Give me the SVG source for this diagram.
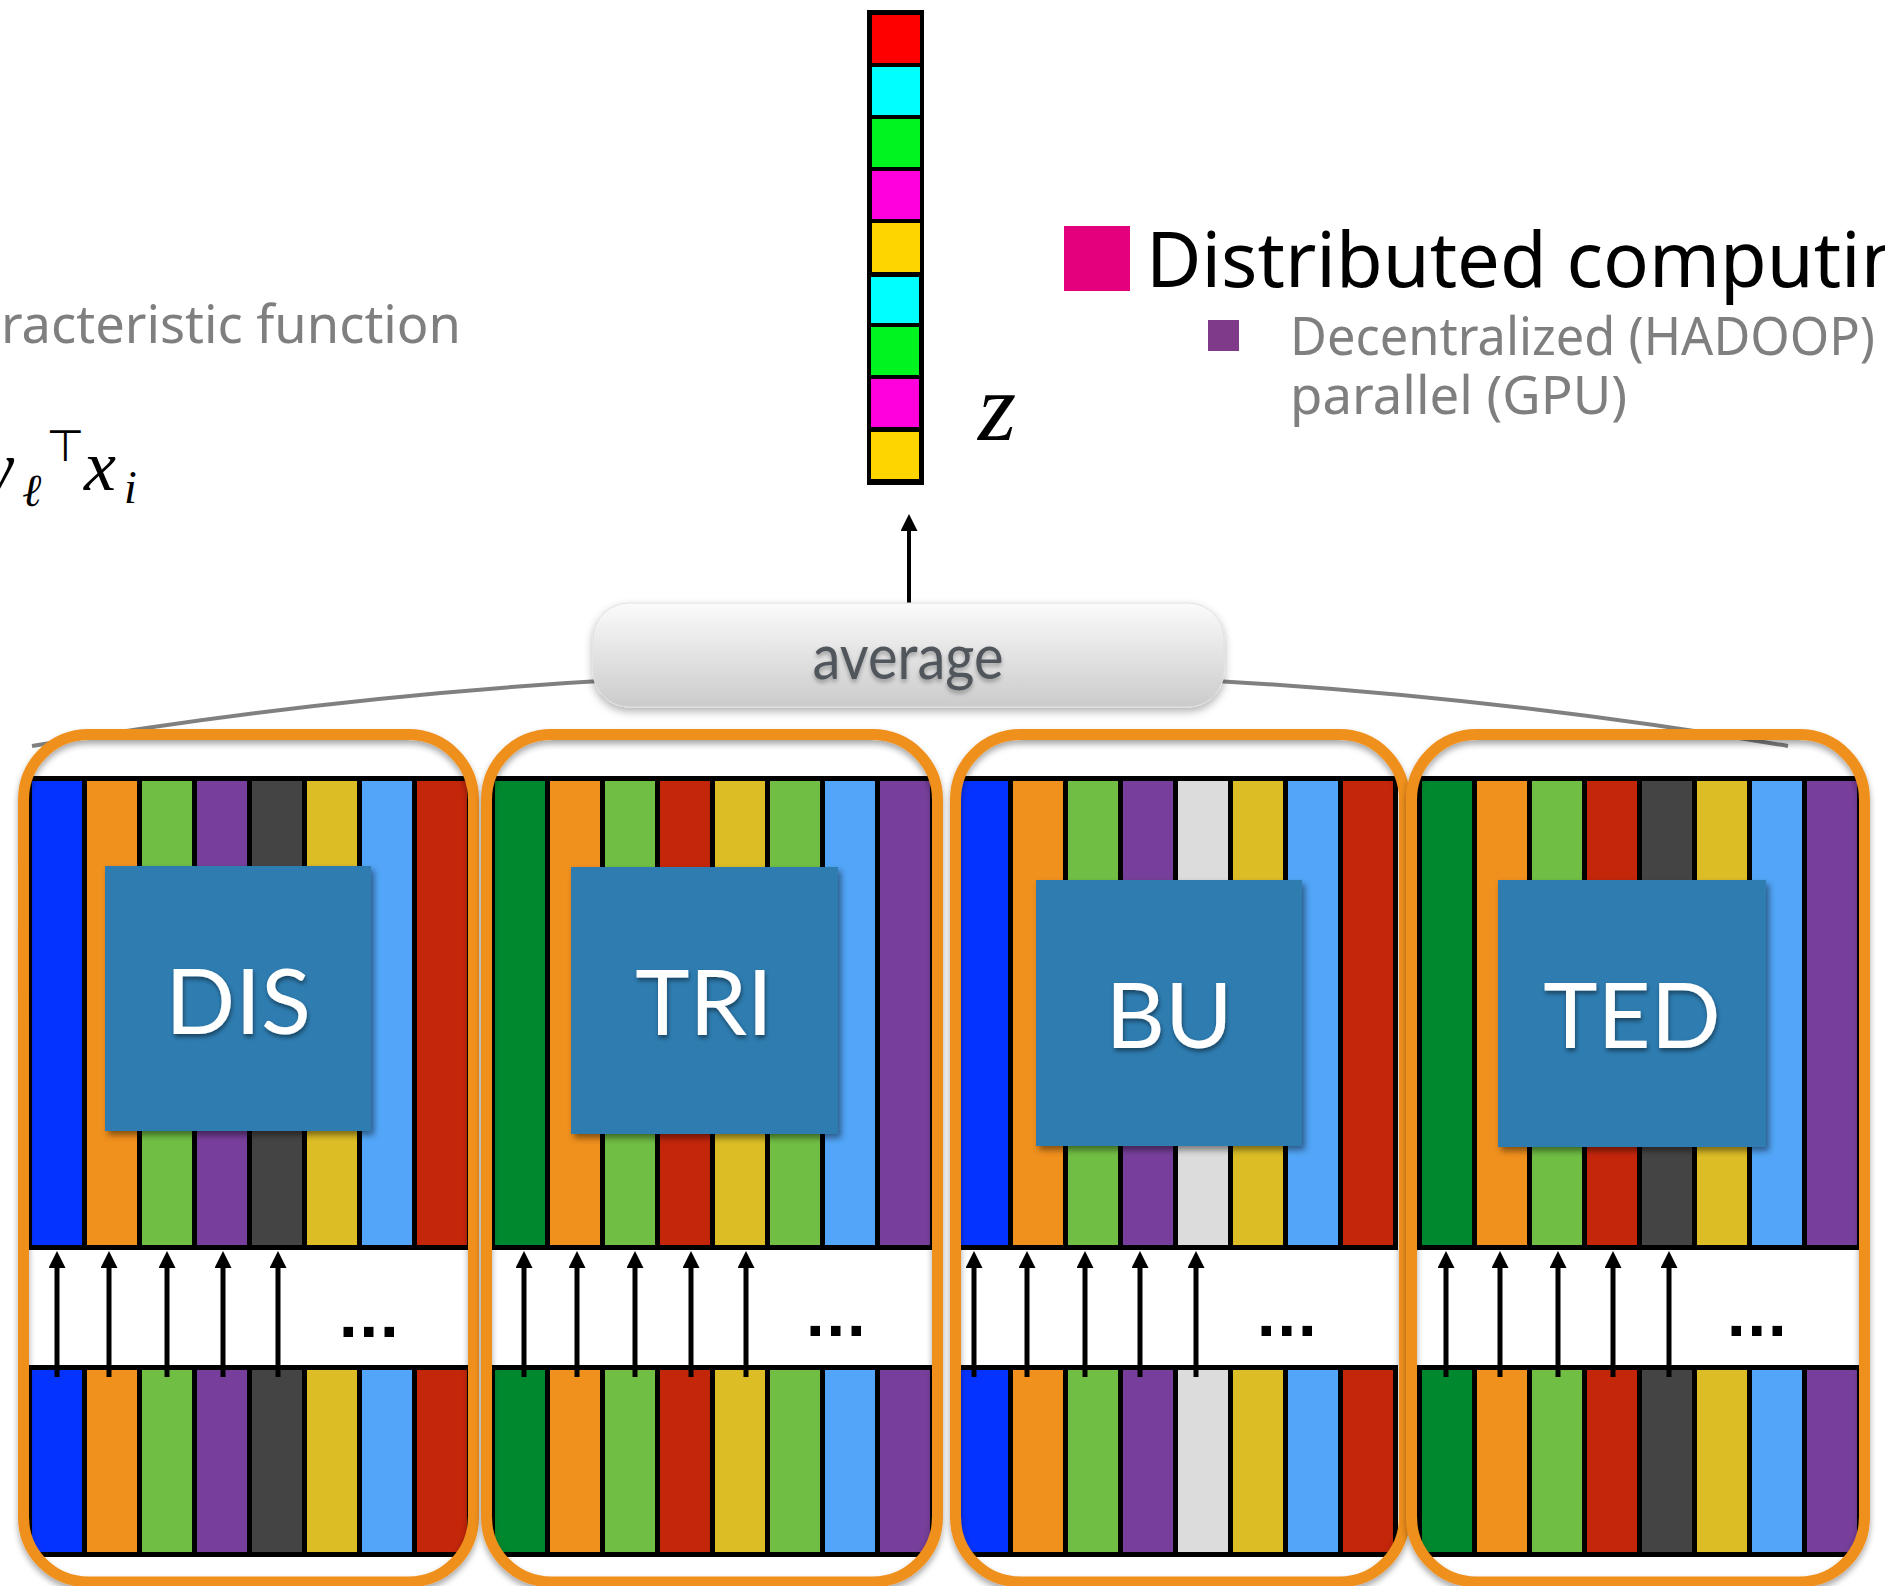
<svg xmlns="http://www.w3.org/2000/svg" xmlns:xlink="http://www.w3.org/1999/xlink" width="1885" height="1586" viewBox="0 0 1885 1586">
<style>
.bk{fill:#000}
.b{fill:#0433ff}.o{fill:#f0901d}.g{fill:#70bf44}.p{fill:#773f9b}.d{fill:#444444}.y{fill:#dcbd26}.l{fill:#52a5f8}.r{fill:#c4260a}.dg{fill:#00882e}.lg{fill:#dcdcdc}
.frame{fill:none;stroke:#f0901d;stroke-width:11}
.box{fill:#2f7cb0}
.boxtxt{font-family:Lato,"Open Sans",sans-serif;font-size:92px;fill:#fff;text-anchor:middle}
.dots{font-family:"DejaVu Sans",sans-serif;font-weight:bold;font-size:54px;fill:#000}
.arr{stroke:#000;stroke-width:5;fill:none}
.gray{font-family:"Noto Sans","Open Sans",sans-serif;fill:#7f7f7f}
.math{font-family:"Liberation Serif","DejaVu Serif",serif;font-style:italic;fill:#000}
</style>
<defs>
<marker id="ah" viewBox="0 0 17 17" refX="0" refY="8.5" markerWidth="17" markerHeight="17" markerUnits="userSpaceOnUse" orient="auto">
<path d="M0,0 L17,8.5 L0,17 z" fill="#000"/>
</marker>
<filter id="fsh" x="-5%" y="-5%" width="110%" height="110%"><feDropShadow dx="0" dy="4" stdDeviation="3" flood-color="#000" flood-opacity="0.35"/></filter>
<filter id="bsh" x="-10%" y="-10%" width="125%" height="125%"><feDropShadow dx="3" dy="4" stdDeviation="3" flood-color="#000" flood-opacity="0.45"/></filter>
<filter id="tsh" x="-10%" y="-20%" width="120%" height="150%"><feDropShadow dx="1" dy="3" stdDeviation="2" flood-color="#000" flood-opacity="0.45"/></filter>
<filter id="ash" x="-5%" y="-20%" width="110%" height="150%"><feDropShadow dx="0" dy="4" stdDeviation="4" flood-color="#000" flood-opacity="0.3"/></filter>
<filter id="atsh" x="-10%" y="-20%" width="120%" height="150%"><feDropShadow dx="0" dy="3" stdDeviation="2" flood-color="#000" flood-opacity="0.3"/></filter>
<linearGradient id="avg" x1="0" y1="0" x2="0" y2="1"><stop offset="0" stop-color="#fbfbfb"/><stop offset="1" stop-color="#cbcbcb"/></linearGradient>
<clipPath id="c1"><rect x="23.5" y="734.5" width="450" height="847.5" rx="65"/></clipPath>
<clipPath id="c2"><rect x="486.5" y="734.5" width="451" height="847.5" rx="65"/></clipPath>
<clipPath id="c3"><rect x="955.5" y="734.5" width="449" height="847.5" rx="65"/></clipPath>
<clipPath id="c4"><rect x="1411.5" y="734.5" width="453" height="847.5" rx="65"/></clipPath>
</defs>
<rect width="1885" height="1586" fill="#fff"/>

<!-- left text -->
<g id="left-text">
<text class="gray" x="1" y="343" font-size="52" textLength="460" lengthAdjust="spacingAndGlyphs">racteristic function</text>
<text class="math" x="-32" y="490" font-size="70">w</text>
<text class="math" x="22" y="506" font-size="46">ℓ</text>
<text x="46" y="461" font-family="'DejaVu Sans',sans-serif" font-size="44" fill="#000">⊤</text>
<text class="math" x="84" y="490" font-size="72">x</text>
<text class="math" x="124" y="503" font-size="46">i</text>
</g>

<!-- bullets -->
<g id="bullets">
<rect x="1064" y="226" width="66" height="65" fill="#e4007c"/>
<text x="1146" y="287" font-family="'Noto Sans','Open Sans',sans-serif" font-size="76" fill="#000">Distributed computin</text>
<rect x="1208" y="320" width="31" height="31" fill="#7f3a8a"/>
<text class="gray" x="1290" y="355" font-size="52" textLength="585" lengthAdjust="spacingAndGlyphs">Decentralized (HADOOP)</text>
<text class="gray" x="1290" y="414" font-size="52" textLength="337" lengthAdjust="spacingAndGlyphs">parallel (GPU)</text>
</g>

<!-- connectors -->
<g id="connectors">
<path d="M32,746 Q910,597.6 1788,746" fill="none" stroke="#808080" stroke-width="4"/>
<line class="arr" x1="909" y1="603" x2="909" y2="531" marker-end="url(#ah)" style="stroke-width:4"/>
</g>

<!-- z vector -->
<g id="z-vector">
<rect x="867" y="10" width="57" height="475" fill="#000"/>
<rect x="872" y="15" width="48" height="48" fill="#ff0000"/>
<rect x="872" y="67" width="48" height="48" fill="#00ffff"/>
<rect x="872" y="119" width="48" height="48" fill="#00f520"/>
<rect x="872" y="171" width="48" height="48" fill="#ff00dd"/>
<rect x="872" y="223" width="48" height="49" fill="#ffd500"/>
<rect x="871" y="277" width="48" height="46" fill="#00ffff"/>
<rect x="871" y="327" width="48" height="48" fill="#00f520"/>
<rect x="871" y="379" width="48" height="48" fill="#ff00dd"/>
<rect x="871" y="432" width="48" height="47" fill="#ffd500"/>
<text class="math" x="978" y="440" font-size="98">z</text>
</g>

<!-- average -->
<g id="average">
<rect x="593" y="603" width="631" height="104" rx="36" fill="url(#avg)" stroke="#e0e0e0" stroke-width="1" filter="url(#ash)"/>
<text x="908" y="679" font-family="Lato,'Open Sans',sans-serif" font-size="62" fill="#51565d" text-anchor="middle" textLength="191" lengthAdjust="spacingAndGlyphs" filter="url(#atsh)">average</text>
</g>

<!-- Panel 1 DIS -->
<g id="panel-dis">
<g clip-path="url(#c1)">
<rect class="bk" x="27" y="776" width="445" height="474"/>
<rect class="b" x="32" y="781" width="50" height="464"/><rect class="o" x="87" y="781" width="50" height="464"/><rect class="g" x="142" y="781" width="50" height="464"/><rect class="p" x="197" y="781" width="50" height="464"/><rect class="d" x="252" y="781" width="50" height="464"/><rect class="y" x="307" y="781" width="50" height="464"/><rect class="l" x="362" y="781" width="50" height="464"/><rect class="r" x="417" y="781" width="50" height="464"/>
<rect class="bk" x="27" y="1365" width="445" height="192"/>
<rect class="b" x="32" y="1370" width="50" height="182"/><rect class="o" x="87" y="1370" width="50" height="182"/><rect class="g" x="142" y="1370" width="50" height="182"/><rect class="p" x="197" y="1370" width="50" height="182"/><rect class="d" x="252" y="1370" width="50" height="182"/><rect class="y" x="307" y="1370" width="50" height="182"/><rect class="l" x="362" y="1370" width="50" height="182"/><rect class="r" x="417" y="1370" width="50" height="182"/>
</g>
<rect class="box" x="105" y="866" width="266" height="265" filter="url(#bsh)"/>
<text class="boxtxt" x="238" y="1034" filter="url(#tsh)">DIS</text>
<line class="arr" x1="57" y1="1377" x2="57" y2="1268" marker-end="url(#ah)"/>
<line class="arr" x1="109" y1="1377" x2="109" y2="1268" marker-end="url(#ah)"/>
<line class="arr" x1="167" y1="1377" x2="167" y2="1268" marker-end="url(#ah)"/>
<line class="arr" x1="223" y1="1377" x2="223" y2="1268" marker-end="url(#ah)"/>
<line class="arr" x1="278" y1="1377" x2="278" y2="1268" marker-end="url(#ah)"/>
<text class="dots" x="338" y="1337">...</text>
<rect class="frame" x="23.5" y="734.5" width="450" height="847.5" rx="65" filter="url(#fsh)"/>
</g>

<!-- Panel 2 TRI -->
<g id="panel-tri">
<g clip-path="url(#c2)">
<rect class="bk" x="490" y="776" width="445" height="474"/>
<rect class="dg" x="495" y="781" width="50" height="464"/><rect class="o" x="550" y="781" width="50" height="464"/><rect class="g" x="605" y="781" width="50" height="464"/><rect class="r" x="660" y="781" width="50" height="464"/><rect class="y" x="715" y="781" width="50" height="464"/><rect class="g" x="770" y="781" width="50" height="464"/><rect class="l" x="825" y="781" width="50" height="464"/><rect class="p" x="880" y="781" width="50" height="464"/>
<rect class="bk" x="490" y="1365" width="445" height="192"/>
<rect class="dg" x="495" y="1370" width="50" height="182"/><rect class="o" x="550" y="1370" width="50" height="182"/><rect class="g" x="605" y="1370" width="50" height="182"/><rect class="r" x="660" y="1370" width="50" height="182"/><rect class="y" x="715" y="1370" width="50" height="182"/><rect class="g" x="770" y="1370" width="50" height="182"/><rect class="l" x="825" y="1370" width="50" height="182"/><rect class="p" x="880" y="1370" width="50" height="182"/>
</g>
<rect class="box" x="571" y="867" width="267" height="267" filter="url(#bsh)"/>
<text class="boxtxt" x="704" y="1035" filter="url(#tsh)">TRI</text>
<line class="arr" x1="524" y1="1377" x2="524" y2="1268" marker-end="url(#ah)"/>
<line class="arr" x1="577" y1="1377" x2="577" y2="1268" marker-end="url(#ah)"/>
<line class="arr" x1="635" y1="1377" x2="635" y2="1268" marker-end="url(#ah)"/>
<line class="arr" x1="691" y1="1377" x2="691" y2="1268" marker-end="url(#ah)"/>
<line class="arr" x1="746" y1="1377" x2="746" y2="1268" marker-end="url(#ah)"/>
<text class="dots" x="805" y="1336">...</text>
<rect class="frame" x="486.5" y="734.5" width="451" height="847.5" rx="65" filter="url(#fsh)"/>
</g>

<!-- Panel 3 BU -->
<g id="panel-bu">
<g clip-path="url(#c3)">
<rect class="bk" x="953" y="776" width="445" height="474"/>
<rect class="b" x="958" y="781" width="50" height="464"/><rect class="o" x="1013" y="781" width="50" height="464"/><rect class="g" x="1068" y="781" width="50" height="464"/><rect class="p" x="1123" y="781" width="50" height="464"/><rect class="lg" x="1178" y="781" width="50" height="464"/><rect class="y" x="1233" y="781" width="50" height="464"/><rect class="l" x="1288" y="781" width="50" height="464"/><rect class="r" x="1343" y="781" width="50" height="464"/>
<rect class="bk" x="953" y="1365" width="445" height="192"/>
<rect class="b" x="958" y="1370" width="50" height="182"/><rect class="o" x="1013" y="1370" width="50" height="182"/><rect class="g" x="1068" y="1370" width="50" height="182"/><rect class="p" x="1123" y="1370" width="50" height="182"/><rect class="lg" x="1178" y="1370" width="50" height="182"/><rect class="y" x="1233" y="1370" width="50" height="182"/><rect class="l" x="1288" y="1370" width="50" height="182"/><rect class="r" x="1343" y="1370" width="50" height="182"/>
</g>
<rect class="box" x="1036" y="880" width="266" height="266" filter="url(#bsh)"/>
<text class="boxtxt" x="1169" y="1048" filter="url(#tsh)">BU</text>
<line class="arr" x1="974" y1="1377" x2="974" y2="1268" marker-end="url(#ah)"/>
<line class="arr" x1="1027" y1="1377" x2="1027" y2="1268" marker-end="url(#ah)"/>
<line class="arr" x1="1085" y1="1377" x2="1085" y2="1268" marker-end="url(#ah)"/>
<line class="arr" x1="1140" y1="1377" x2="1140" y2="1268" marker-end="url(#ah)"/>
<line class="arr" x1="1196" y1="1377" x2="1196" y2="1268" marker-end="url(#ah)"/>
<text class="dots" x="1256" y="1336">...</text>
<rect class="frame" x="955.5" y="734.5" width="449" height="847.5" rx="65" filter="url(#fsh)"/>
</g>

<!-- Panel 4 TED -->
<g id="panel-ted">
<g clip-path="url(#c4)">
<rect class="bk" x="1417" y="776" width="445" height="474"/>
<rect class="dg" x="1422" y="781" width="50" height="464"/><rect class="o" x="1477" y="781" width="50" height="464"/><rect class="g" x="1532" y="781" width="50" height="464"/><rect class="r" x="1587" y="781" width="50" height="464"/><rect class="d" x="1642" y="781" width="50" height="464"/><rect class="y" x="1697" y="781" width="50" height="464"/><rect class="l" x="1752" y="781" width="50" height="464"/><rect class="p" x="1807" y="781" width="50" height="464"/>
<rect class="bk" x="1417" y="1365" width="445" height="192"/>
<rect class="dg" x="1422" y="1370" width="50" height="182"/><rect class="o" x="1477" y="1370" width="50" height="182"/><rect class="g" x="1532" y="1370" width="50" height="182"/><rect class="r" x="1587" y="1370" width="50" height="182"/><rect class="d" x="1642" y="1370" width="50" height="182"/><rect class="y" x="1697" y="1370" width="50" height="182"/><rect class="l" x="1752" y="1370" width="50" height="182"/><rect class="p" x="1807" y="1370" width="50" height="182"/>
</g>
<rect class="box" x="1498" y="880" width="268" height="267" filter="url(#bsh)"/>
<text class="boxtxt" x="1632" y="1048" filter="url(#tsh)">TED</text>
<line class="arr" x1="1446" y1="1377" x2="1446" y2="1268" marker-end="url(#ah)"/>
<line class="arr" x1="1500" y1="1377" x2="1500" y2="1268" marker-end="url(#ah)"/>
<line class="arr" x1="1558" y1="1377" x2="1558" y2="1268" marker-end="url(#ah)"/>
<line class="arr" x1="1613" y1="1377" x2="1613" y2="1268" marker-end="url(#ah)"/>
<line class="arr" x1="1669" y1="1377" x2="1669" y2="1268" marker-end="url(#ah)"/>
<text class="dots" x="1726" y="1336">...</text>
<rect class="frame" x="1411.5" y="734.5" width="453" height="847.5" rx="65" filter="url(#fsh)"/>
</g>
</svg>
